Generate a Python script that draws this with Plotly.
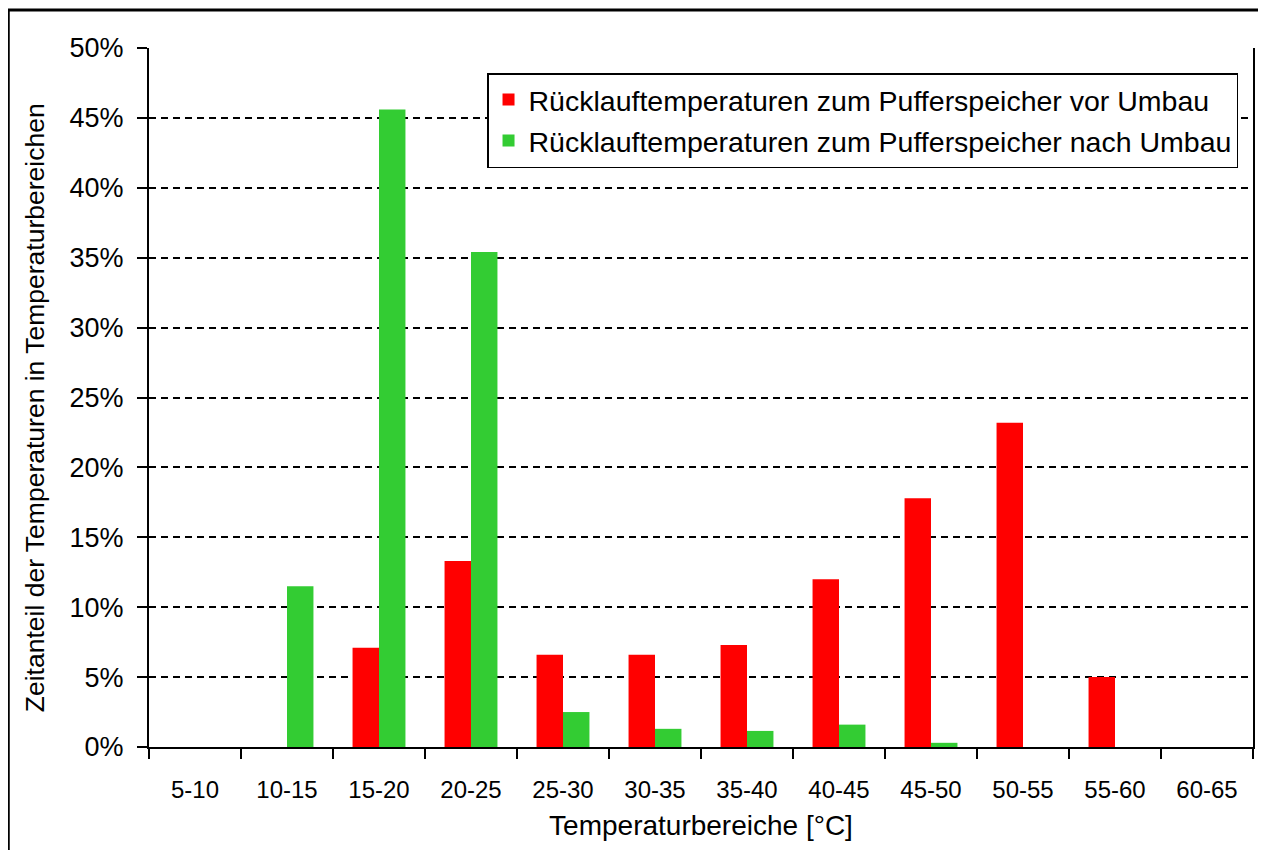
import plotly.graph_objects as go

categories = ["5-10", "10-15", "15-20", "20-25", "25-30", "30-35", "35-40",
              "40-45", "45-50", "50-55", "55-60", "60-65"]
vor_umbau = [0.0, 0.0, 7.1, 13.3, 6.6, 6.6, 7.3, 12.0, 17.8, 23.2, 5.0, 0.0]
nach_umbau = [0.0, 11.5, 45.6, 35.4, 2.5, 1.3, 1.15, 1.6, 0.3, 0.0, 0.0, 0.0]
series_names = ["Rücklauftemperaturen zum Pufferspeicher vor Umbau",
                "Rücklauftemperaturen zum Pufferspeicher nach Umbau"]
y_ticks = [0, 5, 10, 15, 20, 25, 30, 35, 40, 45, 50]
x_title = "Temperaturbereiche [°C]"
y_title = "Zeitanteil der Temperaturen in Temperaturbereichen"

FONT = "Liberation Sans, Arial, sans-serif"
# page has an 8px body margin, so figure coords = page coords - 8
OFF = 8
W, H = 1266 - OFF, 850 - OFF
L, R, T, B = 149 - OFF, 11, 48 - OFF, 103
pw, ph = W - L - R, H - T - B

def px_x(x):
    return (x - OFF - L) / pw

def px_y(y):
    return (H - B - (y - OFF)) / ph

fig = go.Figure()
fig.add_bar(x=categories, y=[v / 100 for v in vor_umbau], name=series_names[0],
            marker=dict(color="#FF0000", line=dict(width=0)), legendgroup="a")
fig.add_bar(x=categories, y=[v / 100 for v in nach_umbau], name=series_names[1],
            marker=dict(color="#33CC33", line=dict(width=0)), legendgroup="b")

fig.update_layout(
    width=W, height=H,
    margin=dict(l=L, r=R, t=T, b=B),
    paper_bgcolor="white", plot_bgcolor="white",
    barmode="group", bargap=0.425, bargroupgap=0,
    font=dict(family=FONT, color="black", size=24),
    showlegend=True,
    legend=dict(x=px_x(1240), y=px_y(73), xanchor="right", yanchor="top",
                bordercolor="black", borderwidth=1.5, bgcolor="white",
                font=dict(size=28.5, family=FONT), tracegroupgap=1,
                itemwidth=30),
    xaxis=dict(
        type="category", tickson="boundaries", ticks="outside", ticklen=10,
        tickwidth=2, tickcolor="black", showline=True, linecolor="black",
        linewidth=2, showgrid=False, tickfont=dict(size=24, family=FONT),
        ticklabelstandoff=20,
        title=dict(text=x_title, font=dict(size=28, family=FONT), standoff=14),
    ),
    yaxis=dict(
        range=[0, 0.5], tickvals=[v / 100 for v in y_ticks],
        ticktext=[f"{v}%" for v in y_ticks],
        ticks="outside", ticklen=10, tickwidth=2, tickcolor="black",
        showline=True, linecolor="black", linewidth=2, mirror=True,
        showgrid=True, gridcolor="black", gridwidth=1.5, griddash="7px,5px",
        zeroline=False, tickfont=dict(size=27, family=FONT),
        ticklabelstandoff=8,
    ),
    annotations=[
        dict(text=y_title, xref="paper", yref="paper", x=px_x(35), y=px_y(408),
             xanchor="center", yanchor="middle", textangle=-90, showarrow=False,
             font=dict(size=26.5, family=FONT, color="black")),
    ],
    shapes=[
        dict(type="line", xref="paper", yref="paper", x0=px_x(8), x1=px_x(8),
             y0=px_y(10), y1=px_y(900), line=dict(color="black", width=3)),
        dict(type="line", xref="paper", yref="paper", x0=px_x(7), x1=px_x(1265),
             y0=px_y(10), y1=px_y(10), line=dict(color="black", width=3)),
        dict(type="line", xref="paper", yref="paper", x0=px_x(1265), x1=px_x(1265),
             y0=px_y(10), y1=px_y(900), line=dict(color="#BBBBBB", width=1)),
    ],
)

fig.write_html("out.html")
